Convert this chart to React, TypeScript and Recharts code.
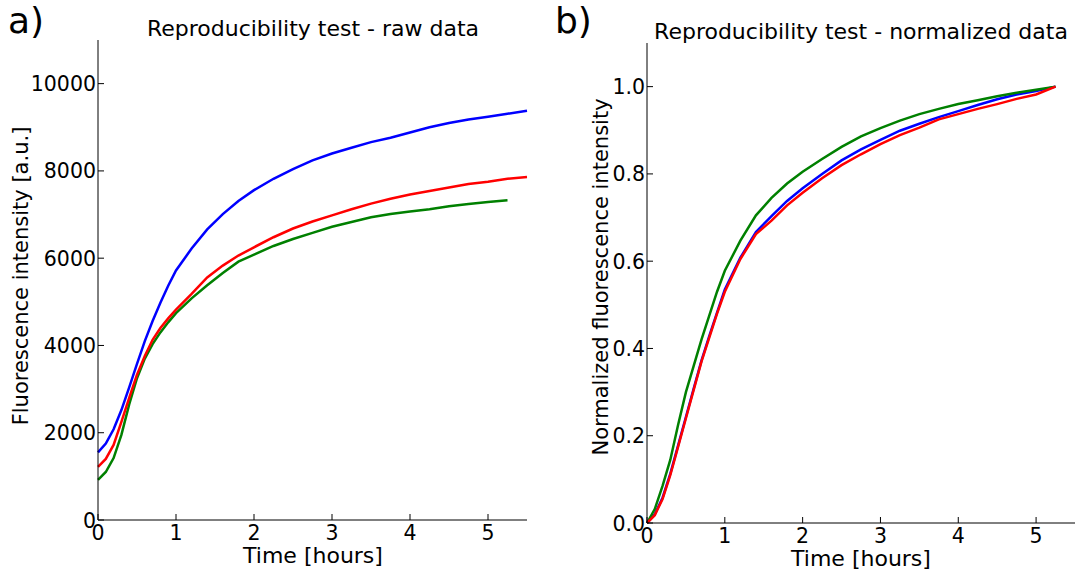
import React from "react";
import { LineChart, Line, XAxis, YAxis } from "recharts";

// time axis in hours
const times = [
  0, 0.1, 0.2, 0.3, 0.4, 0.5, 0.6, 0.7, 0.8, 0.9, 1.0, 1.2, 1.4, 1.6, 1.8,
  2.0, 2.25, 2.5, 2.75, 3.0, 3.25, 3.5, 3.75, 4.0, 4.25, 4.5, 4.75, 5.0, 5.25, 5.5,
];

// raw fluorescence [a.u.]
const rawBlue = [
  1550, 1750, 2080, 2520, 3040, 3580, 4100, 4560, 4980, 5370, 5720, 6220, 6660, 7010, 7310,
  7560, 7820, 8040, 8240, 8400, 8530, 8660, 8760, 8880, 9000, 9100, 9180, 9240, 9310, 9380,
];
const rawGreen = [
  920, 1100, 1420, 1950, 2650, 3250, 3700, 4030, 4300, 4530, 4740, 5080, 5380, 5660, 5920,
  6080, 6280, 6440, 6580, 6720, 6830, 6940, 7010, 7070, 7120, 7190, 7240, 7290, 7330, null,
];
const rawRed = [
  1220, 1400, 1720, 2250, 2800, 3330, 3760, 4130, 4400, 4620, 4820, 5180, 5560, 5830, 6060,
  6250, 6480, 6680, 6840, 6980, 7120, 7250, 7360, 7460, 7540, 7620, 7700, 7750, 7820, 7860,
];

// normalized fluorescence (ends at 5.25 h)
const normBlue = [
  0, 0.02, 0.058, 0.113, 0.178, 0.243, 0.308, 0.372, 0.428, 0.482, 0.535, 0.608, 0.667, 0.703, 0.738,
  0.767, 0.8, 0.831, 0.856, 0.878, 0.899, 0.915, 0.93, 0.944, 0.958, 0.971, 0.982, 0.99, 1.0,
];
const normGreen = [
  0, 0.032, 0.085, 0.145, 0.225, 0.3, 0.36, 0.42, 0.475, 0.53, 0.578, 0.647, 0.705, 0.745, 0.778,
  0.805, 0.834, 0.862, 0.886, 0.905, 0.922, 0.937, 0.949, 0.96, 0.969, 0.978, 0.986, 0.993, 1.0,
];
const normRed = [
  0, 0.018, 0.055, 0.11, 0.175, 0.24, 0.305, 0.37, 0.425, 0.48, 0.53, 0.605, 0.662, 0.693, 0.728,
  0.757, 0.79, 0.82, 0.845, 0.868, 0.889, 0.906, 0.925, 0.937, 0.949, 0.96, 0.972, 0.982, 1.0,
];

const xTicks = [0, 1, 2, 3, 4, 5];
const rawTicks = [0, 2000, 4000, 6000, 8000, 10000];
const normTicks = [0, 0.2, 0.4, 0.6, 0.8, 1.0];

const rawData = times.map((t, i) => ({ t, blue: rawBlue[i], green: rawGreen[i], red: rawRed[i] }));
const normData = normBlue.map((_, i) => ({ t: times[i], blue: normBlue[i], green: normGreen[i], red: normRed[i] }));

const FONT = "DejaVu Sans";
const TICK_LEN = 6;
const TICK_FS = 20.5;

const BottomTick = (props: any) => {
  const { x, y, payload } = props;
  return (
    <g>
      <line x1={x} x2={x} y1={y} y2={y - TICK_LEN} stroke="#000" />
      <text x={x} y={y + 20} textAnchor="middle" fontFamily={FONT} fontSize={TICK_FS} fill="#000">
        {payload.value}
      </text>
    </g>
  );
};

const TopTick = (props: any) => {
  const { x, y } = props;
  return <line x1={x} x2={x} y1={y} y2={y + TICK_LEN} stroke="#000" />;
};

const makeLeftTick = (fmt: (v: number) => string) => (props: any) => {
  const { x, y, payload } = props;
  return (
    <g>
      <line x1={x} x2={x + TICK_LEN} y1={y} y2={y} stroke="#000" />
      <text x={x - 2} y={y + 7.5} textAnchor="end" fontFamily={FONT} fontSize={TICK_FS} fill="#000">
        {fmt(payload.value)}
      </text>
    </g>
  );
};

const RightTick = (props: any) => {
  const { x, y } = props;
  return <line x1={x} x2={x - TICK_LEN} y1={y} y2={y} stroke="#000" />;
};

interface PanelProps {
  data: any[];
  width: number;
  top: number;
  right: number;
  yWidth: number;
  xHeight: number;
  yDomain: [number, number];
  yTicks: number[];
  fmt: (v: number) => string;
}

const Panel: React.FC<PanelProps> = ({ data, width, top, right, yWidth, xHeight, yDomain, yTicks, fmt }) => (
  <LineChart width={width} height={572} data={data} margin={{ top, right, bottom: 0, left: 0 }}>
    <XAxis
      xAxisId="b"
      dataKey="t"
      type="number"
      domain={[0, 5.5]}
      ticks={xTicks}
      interval={0}
      height={xHeight}
      tickSize={0}
      tickMargin={0}
      tickLine={false}
      axisLine={{ stroke: "#000" }}
      tick={BottomTick}
    />
    <XAxis
      xAxisId="top"
      orientation="top"
      dataKey="t"
      type="number"
      domain={[0, 5.5]}
      ticks={xTicks}
      interval={0}
      height={0}
      tickSize={0}
      tickMargin={0}
      tickLine={false}
      axisLine={{ stroke: "#000" }}
      tick={TopTick}
    />
    <YAxis
      yAxisId="l"
      type="number"
      domain={yDomain}
      ticks={yTicks}
      interval={0}
      width={yWidth}
      tickSize={0}
      tickMargin={0}
      tickLine={false}
      axisLine={{ stroke: "#000" }}
      tick={makeLeftTick(fmt)}
    />
    <YAxis
      yAxisId="r"
      orientation="right"
      type="number"
      domain={yDomain}
      ticks={yTicks}
      interval={0}
      width={0}
      tickSize={0}
      tickMargin={0}
      tickLine={false}
      axisLine={{ stroke: "#000" }}
      tick={RightTick}
    />
    <Line xAxisId="b" yAxisId="l" dataKey="blue" stroke="#0000ff" strokeWidth={2.5} dot={false} isAnimationActive={false} />
    <Line xAxisId="b" yAxisId="l" dataKey="green" stroke="#008000" strokeWidth={2.5} dot={false} isAnimationActive={false} />
    <Line xAxisId="b" yAxisId="l" dataKey="red" stroke="#ff0000" strokeWidth={2.5} dot={false} isAnimationActive={false} />
  </LineChart>
);

const App: React.FC = () => {
  const textStyle = { fontFamily: FONT, fill: "#000" };
  return (
    <div style={{ position: "absolute", left: 0, top: 0, width: 1076, height: 572, background: "#fff", overflow: "hidden" }}>
      <div style={{ position: "absolute", left: 0, top: 0 }}>
        <Panel
          data={rawData}
          width={540}
          top={40}
          right={13}
          yWidth={98}
          xHeight={52}
          yDomain={[0, 11000]}
          yTicks={rawTicks}
          fmt={(v) => String(v)}
        />
      </div>
      <div style={{ position: "absolute", left: 540, top: 0 }}>
        <Panel
          data={normData}
          width={536}
          top={43}
          right={1}
          yWidth={107}
          xHeight={49}
          yDomain={[0, 1.1]}
          yTicks={normTicks}
          fmt={(v) => v.toFixed(1)}
        />
      </div>
      <svg width={1076} height={572} style={{ position: "absolute", left: 0, top: 0, pointerEvents: "none" }}>
        <text x={8} y={33} fontSize={36} {...textStyle}>a)</text>
        <text x={555} y={33} fontSize={36} {...textStyle}>b)</text>
        <text x={313} y={36} fontSize={22} textAnchor="middle" {...textStyle}>
          Reproducibility test - raw data
        </text>
        <text x={861} y={39} fontSize={22} textAnchor="middle" {...textStyle}>
          Reproducibility test - normalized data
        </text>
        <text transform="translate(28,276) rotate(-90)" fontSize={21} textAnchor="middle" {...textStyle}>
          Fluorescence intensity [a.u.]
        </text>
        <text transform="translate(608,277) rotate(-90)" fontSize={21} textAnchor="middle" {...textStyle}>
          Normalized fluorescence intensity
        </text>
        <text x={313} y={563} fontSize={22} textAnchor="middle" {...textStyle}>
          Time [hours]
        </text>
        <text x={861} y={566} fontSize={22} textAnchor="middle" {...textStyle}>
          Time [hours]
        </text>
      </svg>
    </div>
  );
};

export default App;
